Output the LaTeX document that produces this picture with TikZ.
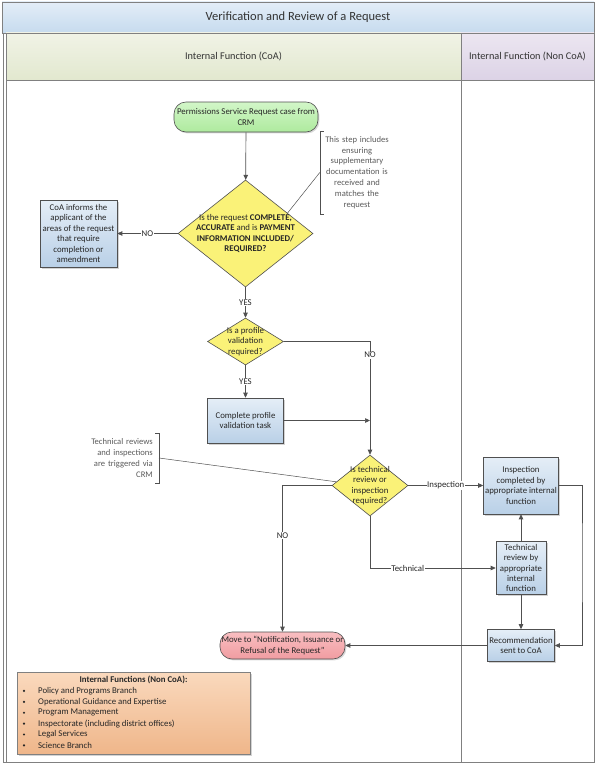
\documentclass[tikz,border=0pt]{standalone}
\usepackage{fontspec}
\setmainfont{Carlito}
\usepackage{tikz}
\usetikzlibrary{positioning,arrows.meta,shapes,shadows,calc}

\definecolor{titleTop}{HTML}{E3EDF8}
\definecolor{titleBot}{HTML}{C6DBEE}
\definecolor{coaTop}{HTML}{F1F3E6}
\definecolor{coaBot}{HTML}{E2E8CF}
\definecolor{nonTop}{HTML}{ECE6F1}
\definecolor{nonBot}{HTML}{DCD3E6}
\definecolor{startTop}{HTML}{D2F6C8}
\definecolor{startBot}{HTML}{AEEA9E}
\definecolor{taskTop}{HTML}{E5EEF7}
\definecolor{taskBot}{HTML}{B9D0E7}
\definecolor{decYellow}{HTML}{FAF278}
\definecolor{stopTop}{HTML}{F9BEC1}
\definecolor{stopBot}{HTML}{F09CA1}
\definecolor{legendTop}{HTML}{FAD9BD}
\definecolor{legendBot}{HTML}{EFB68A}
\definecolor{lineGray}{HTML}{505050}
\definecolor{laneGray}{HTML}{808080}
\definecolor{noteGray}{HTML}{5A5A5A}

\newcommand{\flowfont}{\fontsize{8.8}{10.4}\selectfont}
\newcommand{\bannerfont}{\fontsize{12.5}{14}\selectfont}
\newcommand{\lanefont}{\fontsize{10.3}{12}\selectfont}
\newcommand{\asidefont}{\fontsize{8.6}{10.8}\selectfont}

\tikzset{
  lane/.style={draw=laneGray, line width=0.9pt},
  headbox/.style={rectangle, draw=laneGray, line width=0.9pt, inner sep=0pt, text=black!80},
  flow/.style={draw=lineGray, line width=0.7pt, -{Triangle[length=5pt,width=4.5pt]}},
  link/.style={draw=lineGray, line width=0.5pt},
  tag/.style={fill=white, inner sep=0.6pt, font=\flowfont, text=black!85},
  task/.style={rectangle, draw=lineGray, line width=0.6pt, top color=taskTop, bottom color=taskBot,
    align=center, font=\flowfont, text=black!85, inner sep=0pt,
    drop shadow={shadow xshift=1.6pt, shadow yshift=-1.6pt, opacity=0.35}},
  choice/.style={diamond, draw=lineGray, line width=0.6pt, fill=decYellow, align=center,
    font=\flowfont, text=black!85, inner sep=-24pt},
  term/.style={rectangle, rounded corners=12pt, draw=lineGray, line width=0.6pt, align=center,
    font=\flowfont, text=black!85, inner sep=0pt,
    drop shadow={shadow xshift=1.4pt, shadow yshift=-1.4pt, opacity=0.3}},
  note/.style={font=\asidefont, text=noteGray, align=center, inner xsep=4pt, inner ysep=0pt}
}

\begin{document}
\begin{tikzpicture}[x=1pt,y=-1pt]
  \def\W{599} % picture width
  \def\H{768} % picture height
  \def\split{461} % divider between the two lanes
  \useasboundingbox (0,0) rectangle (\W,\H);

  % Lanes
  \draw[lane] (3,33) rectangle (594,762);
  \draw[lane] (6,33) -- (6,762);
  \draw[lane] (\split,33) -- (\split,762);
  \node[headbox, top color=titleTop, bottom color=titleBot, minimum width=592, minimum height=31,
    font=\bannerfont] (title) at (298,17.5) {Verification and Review of a Request};
  \node[headbox, top color=coaTop, bottom color=coaBot, minimum width=455, minimum height=47,
    font=\lanefont] (coa) at (233.5,56.5) {Internal Function (CoA)};
  \node[headbox, top color=nonTop, bottom color=nonBot, minimum width=133, minimum height=47,
    font=\lanefont] (noncoa) at (527.5,56.5) {Internal Function (Non CoA)};

  % Flow nodes
  \node[term, top color=startTop, bottom color=startBot, minimum width=144, minimum height=30]
    (start) at (246,117) {Permissions Service Request case from\\CRM};
  \node[choice, minimum width=135, minimum height=107] (d1) at (245.5,233.5)
    {Is the request \textbf{COMPLETE,}\\\textbf{ACCURATE} and is \textbf{PAYMENT}\\\textbf{INFORMATION INCLUDED/}\\\textbf{REQUIRED?}};
  \node[task, minimum width=77, minimum height=67] (inform) at (78.5,233.5)
    {CoA informs the\\applicant of the\\areas of the request\\that require\\completion or\\amendment};
  \node[choice, minimum width=76, minimum height=47] (d2) at (245.5,341.5)
    {Is a profile\\validation\\required?};
  \node[task, minimum width=76, minimum height=45] (profile) at (245.5,420.5)
    {Complete profile\\validation task};
  \node[choice, minimum width=76, minimum height=61] (d3) at (370,485.5)
    {Is technical\\review or\\inspection\\required?};
  \node[task, minimum width=75, minimum height=57] (insp) at (521,485.5)
    {Inspection\\completed by\\appropriate internal\\function};
  \node[task, minimum width=50, minimum height=53] (tech) at (521,568)
    {Technical\\review by\\appropriate\\internal\\function};
  \node[task, minimum width=67, minimum height=32] (rec) at (521,645.5)
    {Recommendation\\sent to CoA};
  \node[term, top color=stopTop, bottom color=stopBot, minimum width=125, minimum height=27]
    (stop) at (282.5,645.5) {Move to ``Notification, Issuance or\\Refusal of the Request''};

  % Notes
  \node[note, text width=66, minimum height=83] (note1) at (357,172.5)
    {This step includes\\ensuring\\supplementary\\documentation is\\received and\\matches the\\request};
  \draw[link] ([xshift=4pt]note1.north west) -- (note1.north west) -- (note1.south west) -- ([xshift=4pt]note1.south west);
  \draw[link] (note1.west) -- ($(d1.north)!0.62!(d1.east)$);
  \node[note, align=right, text width=66, inner xsep=6pt, minimum height=50, anchor=east] (note2) at (159,458)
    {Technical reviews\\and inspections\\are triggered via\\CRM};
  \draw[link] ([xshift=-4pt]note2.north east) -- (note2.north east) -- (note2.south east) -- ([xshift=-4pt]note2.south east);
  \draw[link] (note2.east) -- ($(d3.west)!0.12!(d3.north)$);

  % Connectors
  \draw[flow] (start) -- (d1);
  \draw[flow] (d1) -- node[tag] {NO} (inform);
  \draw[flow] (d1) -- node[tag] {YES} (d2);
  \draw[flow] (d2) -- node[tag] {YES} (profile);
  \draw[flow] (d2.east) -| node[tag, pos=0.56] {NO} (d3.north);
  \coordinate (merge) at (d3.north |- profile.east);
  \draw[flow] (profile) -- (merge);
  \draw[flow] (d3.west) -| node[tag, pos=0.67] {NO} (stop.north);
  \draw[flow] (d3.south) |- node[tag, pos=0.65] {Technical} (tech.west);
  \draw[flow] (d3) -- node[tag] {Inspection} (insp);
  \draw[flow] (tech) -- (insp);
  \draw[flow] (tech) -- (rec);
  \coordinate (back) at (582,560);
  \draw[flow] (insp.east) -| (back) |- (rec.east);
  \draw[flow] (rec) -- (stop);

  % Legend of the internal functions
  \node[rectangle, draw=laneGray, line width=0.6pt, top color=legendTop, bottom color=legendBot,
    minimum width=233, minimum height=82,
    drop shadow={shadow xshift=1.6pt, shadow yshift=-1.6pt, opacity=0.35}] (legend) at (133.5,713) {};
  \node[font=\flowfont\bfseries, text=black!85, inner sep=0pt] (legendtitle) at (133.5,680) {Internal Functions (Non CoA):};
  \foreach \item [count=\i] in {Policy and Programs Branch, Operational Guidance and Expertise,
      Program Management, Inspectorate (including district offices), Legal Services, Science Branch} {
    \fill[black!85] (24,680+10.9*\i) circle (1.2);
    \node[font=\flowfont, text=black!85, inner sep=0pt, anchor=west] (item\i) at (38,680+10.9*\i) {\item};
  }
\end{tikzpicture}
\end{document}
